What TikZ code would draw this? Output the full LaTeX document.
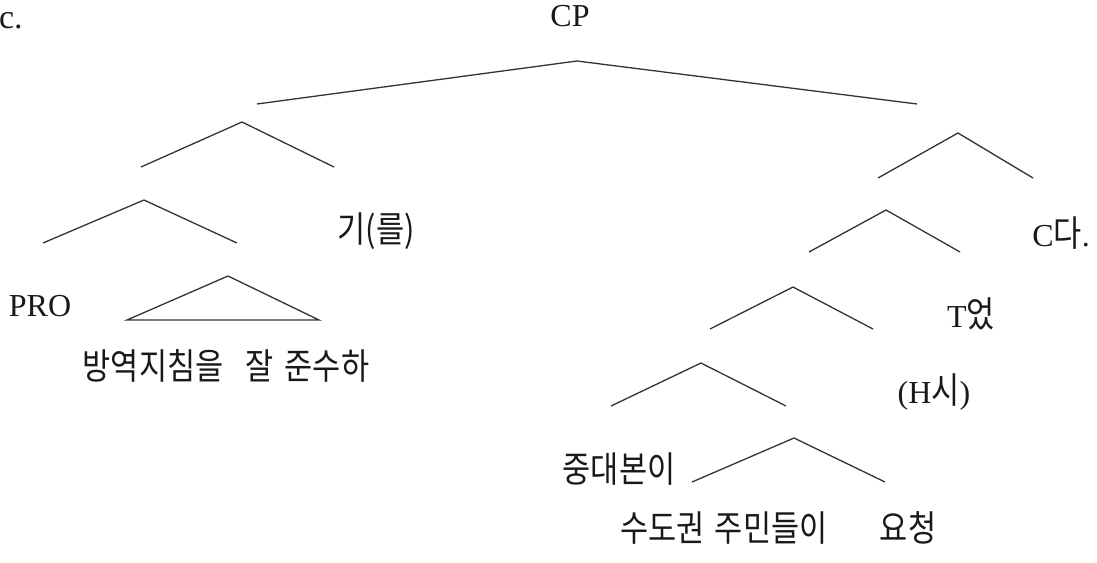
\documentclass[tikz,border=0pt]{standalone}
\usepackage{fontspec}
\setmainfont{Liberation Serif}
\newfontfamily\kr[FakeStretch=0.85]{Noto Sans CJK KR}
\begin{document}
\begin{tikzpicture}[x=1pt,y=-1pt,
  br/.style={line width=1.3pt,draw=black!80},
  lab/.style={anchor=base,inner sep=0pt,outer sep=0pt,text=black!90,font=\fontsize{32}{38}\selectfont},
  krl/.style={anchor=base,inner sep=0pt,outer sep=0pt,text=black!90,font=\fontsize{36}{42}\selectfont\kr}]
\useasboundingbox (0,0) rectangle (1097,562);
% labels
\node[lab,anchor=base west,font=\fontsize{34}{40}\selectfont] (c) at (-1,28) {c.};
\node[lab] (cp) at (570,27) {CP};
\node[krl] (gi) at (376,242) {기(를)};
\node[lab] (pro) at (40,316) {PRO};
\node[krl] (bang) at (226,379) {방역지침을\hspace{22pt}잘\hspace{11pt}준수하};
\node[lab] (cda) at (1061,246) {C{\fontsize{36}{42}\selectfont\kr 다}.};
\node[lab] (teot) at (971,327) {T{\fontsize{36}{42}\selectfont\kr 었}};
\node[lab] (hsi) at (934,403) {(H{\fontsize{36}{42}\selectfont\kr 시})};
\node[krl] (jung) at (619,482) {중대본이};
\node[krl] (sudo) at (724,541) {수도권\hspace{10pt}주민들이};
\node[krl] (yo) at (908,541) {요청};
% branch points
\coordinate (a0) at (577,61);  \coordinate (a0l) at (257,104); \coordinate (a0r) at (917,104);
\coordinate (a1) at (242,122); \coordinate (a1l) at (141,167); \coordinate (a1r) at (334,167);
\coordinate (a2) at (144,200); \coordinate (a2l) at (43,243);  \coordinate (a2r) at (237,243);
\coordinate (t0) at (228,276); \coordinate (t0l) at (127,320); \coordinate (t0r) at (319,320);
\coordinate (b1) at (958,133); \coordinate (b1l) at (878,178); \coordinate (b1r) at (1033,178);
\coordinate (b2) at (886,210); \coordinate (b2l) at (809,252); \coordinate (b2r) at (960,252);
\coordinate (b3) at (793,287); \coordinate (b3l) at (710,329); \coordinate (b3r) at (873,329);
\coordinate (b4) at (701,363); \coordinate (b4l) at (611,406); \coordinate (b4r) at (786,406);
\coordinate (b5) at (794,438); \coordinate (b5l) at (692,482); \coordinate (b5r) at (885,482);
% branches
\draw[br] (a0l) -- (a0) -- (a0r);
\draw[br] (a1l) -- (a1) -- (a1r);
\draw[br] (a2l) -- (a2) -- (a2r);
\draw[br] (t0l) -- (t0) -- (t0r) -- cycle;
\draw[br] (b1l) -- (b1) -- (b1r);
\draw[br] (b2l) -- (b2) -- (b2r);
\draw[br] (b3l) -- (b3) -- (b3r);
\draw[br] (b4l) -- (b4) -- (b4r);
\draw[br] (b5l) -- (b5) -- (b5r);
\end{tikzpicture}
\end{document}
